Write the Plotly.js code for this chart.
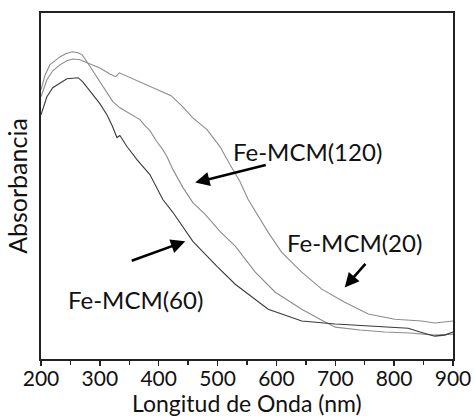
<!DOCTYPE html>
<html><head><meta charset="utf-8">
<script src="https://cdn.plot.ly/plotly-3.0.1.min.js"></script>
<style>html,body{margin:0;padding:0;background:#fff;}#chart{width:475px;height:416px;}</style>
</head><body><div id="chart"></div>
<script>
// Fe-MCM(20)
const wl20 = [200,210,220,232,244,254,266,275,283,300,317,327,333,360,385,402,421,441,458,482,504,521,538,552,569,586,609,643,677,716,756,801,847,869,900];
const abs20 = [0.758,0.807,0.833,0.850,0.862,0.867,0.865,0.859,0.853,0.841,0.824,0.816,0.827,0.807,0.787,0.775,0.761,0.729,0.697,0.663,0.614,0.562,0.513,0.461,0.412,0.366,0.308,0.251,0.202,0.164,0.130,0.115,0.110,0.104,0.110];
// Fe-MCM(120)
const wl120 = [200,207,215,232,242,253,263,270,278,287,295,304,312,322,334,351,368,377,385,397,407,414,424,441,458,479,504,530,564,598,643,674,700,742,784,827,869,900];
const abs120 = [0.778,0.821,0.850,0.873,0.882,0.888,0.885,0.879,0.859,0.836,0.816,0.793,0.769,0.744,0.726,0.709,0.692,0.674,0.660,0.628,0.605,0.585,0.548,0.496,0.452,0.418,0.369,0.326,0.251,0.193,0.144,0.115,0.092,0.084,0.078,0.075,0.069,0.072];
// Fe-MCM(60)
const wl60 = [200,210,220,232,244,263,271,288,300,312,321,329,334,346,363,385,407,424,441,458,499,530,586,643,700,759,824,844,869,886,900];
const abs60 = [0.706,0.758,0.784,0.798,0.810,0.813,0.801,0.764,0.738,0.706,0.674,0.640,0.646,0.614,0.576,0.533,0.461,0.424,0.383,0.340,0.268,0.216,0.144,0.110,0.101,0.095,0.089,0.078,0.066,0.069,0.078];

const seriesNames = ["Fe-MCM(20)","Fe-MCM(120)","Fe-MCM(60)"];
const xTickVals = [200,300,400,500,600,700,800,900];
const xTitle = 'Longitud de Onda (nm)';
const yTitle = 'Absorbancia';
// label text centres and arrow tips (wavelength, absorbance)
const textX = [733, 652, 360];
const textY = [0.337, 0.599, 0.173];
const tipX = [716, 462, 445];
const tipY = [0.207, 0.510, 0.340];

const traces = [
  {x: wl20, y: abs20, name: seriesNames[0], mode: 'lines', line: {color: '#8c8c8c', width: 1.1}},
  {x: wl120, y: abs120, name: seriesNames[1], mode: 'lines', line: {color: '#8c8c8c', width: 1.1}},
  {x: wl60, y: abs60, name: seriesNames[2], mode: 'lines', line: {color: '#3a3a3a', width: 1.1}}
];

const font = 'Lato, "Open Sans", sans-serif';
const arrowOff = [[22,-25],[72,-18],[-55,20]];
const annotations = [];
for (let i = 0; i < 3; i++) {
  annotations.push({x: textX[i], y: textY[i], xref: 'x', yref: 'y', text: seriesNames[i], showarrow: false, font: {family: font, size: 24, color: '#111'}});
  annotations.push({x: tipX[i], y: tipY[i], xref: 'x', yref: 'y', text: '', showarrow: true, arrowhead: 2, arrowsize: 1.1, arrowwidth: 2.6, arrowcolor: '#000', ax: arrowOff[i][0], ay: arrowOff[i][1], standoff: 0});
}
// x-axis title drawn just above the bottom edge, like the reference
annotations.push({x: 0.5, y: 0, xref: 'paper', yref: 'paper', yshift: -59, yanchor: 'bottom', xanchor: 'center', text: xTitle, showarrow: false, borderpad: 0, font: {family: font, size: 23, color: '#111'}});

const layout = {
  width: 475, height: 416,
  margin: {l: 41, r: 22, t: 13, b: 57},
  paper_bgcolor: '#fff', plot_bgcolor: '#fff',
  showlegend: false,
  font: {family: font, color: '#111'},
  xaxis: {
    range: [200, 900], tickvals: xTickVals, ticks: 'outside', ticklen: 5, tickwidth: 1.3, tickcolor: '#222',
    ticklabelstandoff: -5,
    minor: {dtick: 50, tick0: 200, ticks: 'outside', ticklen: 4, tickwidth: 1.3, tickcolor: '#222'},
    showgrid: false, zeroline: false, showline: true, linecolor: '#222', linewidth: 1.6, mirror: true,
    tickfont: {family: font, size: 21, color: '#111'}
  },
  yaxis: {
    range: [0, 1], showticklabels: false, ticks: '', showgrid: false, zeroline: false,
    showline: true, linecolor: '#222', linewidth: 1.6, mirror: true,
    title: {text: yTitle, font: {family: font, size: 25, color: '#111'}, standoff: 4}
  },
  annotations: annotations
};

Plotly.newPlot('chart', traces, layout, {displayModeBar: false, staticPlot: true});
</script></body></html>
